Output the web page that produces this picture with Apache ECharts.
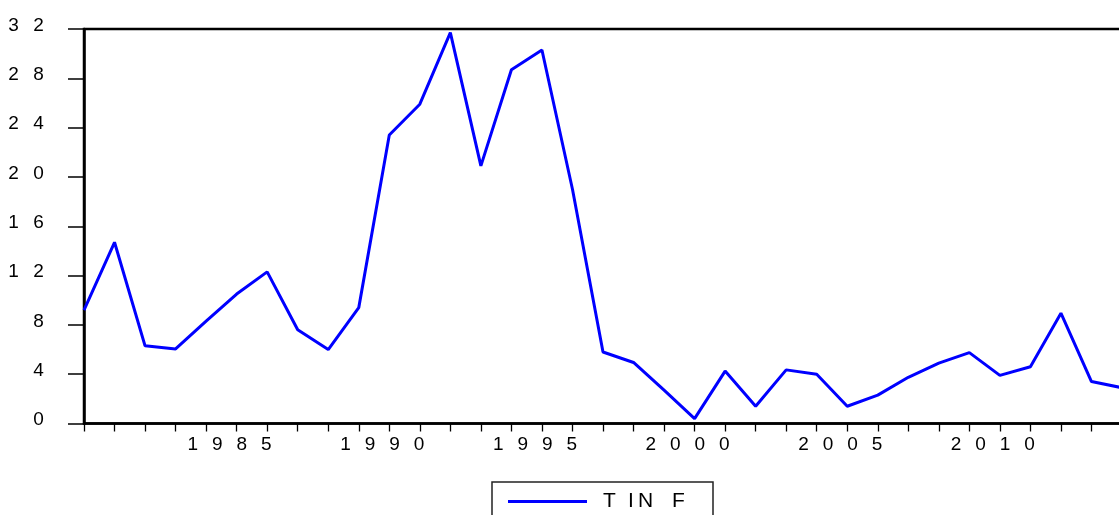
<!DOCTYPE html>
<html>
<head>
<meta charset="utf-8">
<script src="https://cdn.jsdelivr.net/npm/echarts@6/dist/echarts.min.js"></script>
<style>
html,body{margin:0;padding:0;background:#fff;}
#chart{width:1119px;height:515px;}
</style>
</head>
<body>
<div id="chart"></div>
<script>
var years = ['1980','1981','1982','1983','1984','1985','1986','1987','1988','1989',
             '1990','1991','1992','1993','1994','1995','1996','1997','1998','1999',
             '2000','2001','2002','2003','2004','2005','2006','2007','2008','2009',
             '2010','2011','2012','2013','2014'];
var tinf = [9.2, 14.7, 6.3, 6.05, 8.3, 10.5, 12.3, 7.6, 6.0, 9.4,
            23.4, 25.9, 31.7, 20.9, 28.7, 30.3, 19.0, 5.8, 4.95, 2.7,
            0.4, 4.25, 1.4, 4.35, 4.0, 1.4, 2.3, 3.75, 4.9, 5.75,
            3.9, 4.6, 8.95, 3.4, 2.9];
var xTickLabels = ['1985','1990','1995','2000','2005','2010'];
var yTickValues = [0, 4, 8, 12, 16, 20, 24, 28, 32];
var seriesName = 'TINF';

var FONT = 'Liberation Sans, Arial, sans-serif';
function spaced(v) {
  return String(v).split('').map(function (c) { return '{d|' + c + '}'; }).join('');
}

var chart = echarts.init(document.getElementById('chart'), null, {renderer: 'canvas'});
chart.setOption({
  animation: false,
  backgroundColor: '#ffffff',
  grid: {
    left: 84, width: 1038, top: 29, height: 394.5,
    outerBoundsMode: 'none',
    containLabel: false,
    show: true, borderColor: '#000', borderWidth: 2.5, backgroundColor: 'transparent'
  },
  legend: {
    left: 492, top: 482,
    padding: [9, 28, 24, 16],
    borderColor: '#222', borderWidth: 1.5,
    icon: 'rect',
    itemWidth: 79, itemHeight: 3,
    formatter: function (name) {
      var c = name.split('');
      return '{s| }{t|' + c[0] + '}{i|' + c[1] + '}{n|' + c[2] + '}{f|' + c[3] + '}';
    },
    textStyle: {
      fontFamily: FONT, fontSize: 21, color: '#000', lineHeight: 20,
      rich: {
        s: {width: 11, fontSize: 21, lineHeight: 20, fontFamily: FONT},
        t: {width: 25, align: 'left', fontSize: 21, lineHeight: 20, fontFamily: FONT, color: '#000'},
        i: {width: 10, align: 'left', fontSize: 21, lineHeight: 20, fontFamily: FONT, color: '#000'},
        n: {width: 34, align: 'left', fontSize: 21, lineHeight: 20, fontFamily: FONT, color: '#000'},
        f: {width: 13, align: 'left', fontSize: 21, lineHeight: 20, fontFamily: FONT, color: '#000'}
      }
    },
    data: [{name: seriesName, icon: 'rect', itemStyle: {color: '#0000FF'}}]
  },
  xAxis: {
    type: 'category',
    data: years,
    boundaryGap: false,
    axisLine: {show: true, onZero: false, lineStyle: {color: '#000', width: 2.5}},
    axisTick: {show: true, interval: 0, length: 8, lineStyle: {color: '#000', width: 1.3}},
    axisLabel: {
      interval: function (idx, val) { return xTickLabels.indexOf(val) >= 0; },
      formatter: function (v) { return spaced(v); },
      margin: 12,
      fontSize: 19, fontFamily: FONT, color: '#000',
      padding: [0, 14, 0, 0],
      rich: {d: {width: 24.5, align: 'center', fontSize: 19, fontFamily: FONT, color: '#000'}}
    },
    splitLine: {show: false}
  },
  yAxis: {
    type: 'value',
    min: 0, max: 32, interval: 4,
    axisLine: {show: true, lineStyle: {color: '#000', width: 2.5}},
    axisTick: {show: true, length: 16, lineStyle: {color: '#000', width: 1.5}},
    axisLabel: {
      formatter: function (v) { return yTickValues.indexOf(v) >= 0 ? spaced(v) : ''; },
      margin: 33,
      fontSize: 19, fontFamily: FONT, color: '#000',
      padding: [0, 0, 7, 0],
      rich: {d: {width: 25, align: 'center', fontSize: 19, fontFamily: FONT, color: '#000'}}
    },
    splitLine: {show: false}
  },
  series: [{
    name: seriesName,
    type: 'line',
    data: tinf,
    symbol: 'none',
    showSymbol: false,
    lineStyle: {color: '#0000FF', width: 3},
    itemStyle: {color: '#0000FF'}
  }]
});
</script>
</body>
</html>
